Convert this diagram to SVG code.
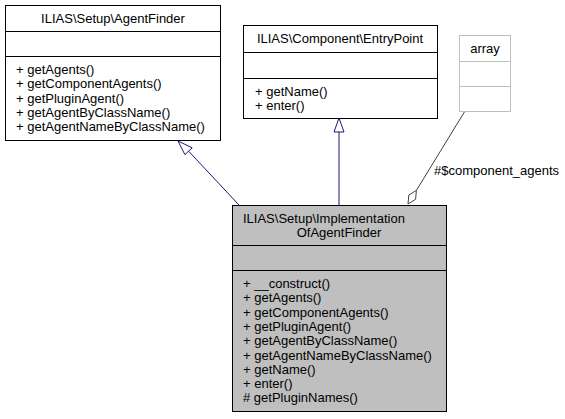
<svg xmlns="http://www.w3.org/2000/svg" width="565" height="419" viewBox="0 0 565 419">
<style>
text{font-family:"Liberation Sans",Arial,Helvetica,sans-serif;font-size:13px;fill:#000}
.box{fill:#fff;stroke:#000;stroke-width:1}
.main{fill:#bfbfbf;stroke:#000;stroke-width:1}
.ext{fill:#fff;stroke:#bfbfbf;stroke-width:1}
.sep{stroke:#000;stroke-width:1}
.sepg{stroke:#bfbfbf;stroke-width:1}
.mid{text-anchor:middle}
.inh{stroke:#191970;stroke-width:1;fill:none}
.inhh{stroke:#191970;stroke-width:1;fill:#fff}
.agg{stroke:#404040;stroke-width:1;fill:none}
.aggh{stroke:#404040;stroke-width:1;fill:#fff}
</style>
<g id="connectors">
<line class="inh" x1="239" y1="205" x2="188.6" y2="151.2"/>
<polygon class="inhh" points="178,141 192.2,147.8 184.9,154.6"/>
<line class="inh" x1="339" y1="205" x2="339" y2="132"/>
<polygon class="inhh" points="339,118 344,132 334,132"/>
<line class="agg" x1="465" y1="111" x2="416.4" y2="190.4"/>
<polygon class="aggh" points="416.4,190.4 415.6,199.3 408,204 408.8,195.1"/>
<text x="434" y="175">#$component_agents</text>
</g>
<g id="AgentFinder">
<rect class="box" x="5.5" y="5.5" width="215" height="135"/>
<line class="sep" x1="5.5" y1="31.5" x2="220.5" y2="31.5"/>
<line class="sep" x1="5.5" y1="56.5" x2="220.5" y2="56.5"/>
<text class="mid" x="113" y="23">ILIAS\Setup\AgentFinder</text>
<text x="16" y="74">+ getAgents()</text>
<text x="16" y="88.3">+ getComponentAgents()</text>
<text x="16" y="102.6">+ getPluginAgent()</text>
<text x="16" y="116.9">+ getAgentByClassName()</text>
<text x="16" y="131.2">+ getAgentNameByClassName()</text>
</g>
<g id="EntryPoint">
<rect class="box" x="243.5" y="25.5" width="194" height="93"/>
<line class="sep" x1="243.5" y1="52.5" x2="437.5" y2="52.5"/>
<line class="sep" x1="243.5" y1="78.5" x2="437.5" y2="78.5"/>
<text class="mid" x="340" y="43">ILIAS\Component\EntryPoint</text>
<text x="255" y="96">+ getName()</text>
<text x="255" y="110.3">+ enter()</text>
</g>
<g id="array">
<rect class="ext" x="459.5" y="35.5" width="51" height="76"/>
<line class="sepg" x1="459.5" y1="61.5" x2="510.5" y2="61.5"/>
<line class="sepg" x1="459.5" y1="86.5" x2="510.5" y2="86.5"/>
<text class="mid" x="485" y="52.5">array</text>
</g>
<g id="ImplementationOfAgentFinder">
<rect class="main" x="232.5" y="205.5" width="214" height="206"/>
<line class="sep" x1="232.5" y1="245.5" x2="446.5" y2="245.5"/>
<line class="sep" x1="232.5" y1="270.5" x2="446.5" y2="270.5"/>
<text x="243" y="222.5">ILIAS\Setup\Implementation</text>
<text class="mid" x="339" y="236.8">OfAgentFinder</text>
<text x="243" y="288">+ __construct()</text>
<text x="243" y="302.3">+ getAgents()</text>
<text x="243" y="316.6">+ getComponentAgents()</text>
<text x="243" y="330.9">+ getPluginAgent()</text>
<text x="243" y="345.2">+ getAgentByClassName()</text>
<text x="243" y="359.5">+ getAgentNameByClassName()</text>
<text x="243" y="373.8">+ getName()</text>
<text x="243" y="388.1">+ enter()</text>
<text x="243" y="402.4"># getPluginNames()</text>
</g>
</svg>
